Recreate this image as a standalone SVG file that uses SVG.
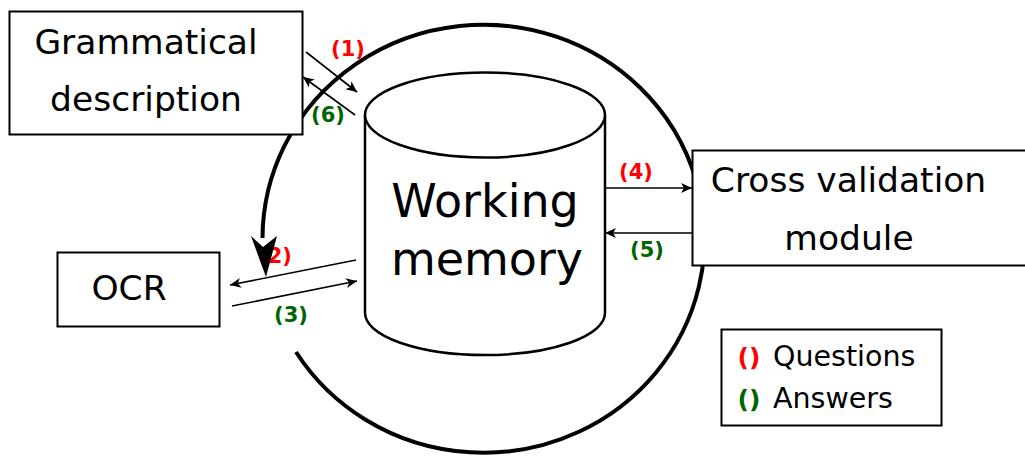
<svg xmlns="http://www.w3.org/2000/svg" width="1025" height="461" viewBox="0 0 1025 461">
<style>
.box{fill:#fff;stroke:#000;stroke-width:2}
.t{font-family:"DejaVu Sans",sans-serif;fill:#000;text-anchor:middle}
.big{font-size:34.5px}
.wm{font-size:46px}
.lg{font-size:28.5px;text-anchor:start}
.lbl{font-family:"DejaVu Sans",sans-serif;font-weight:bold;font-size:21px;text-anchor:middle}
.lgp{font-size:25px}
.q{fill:#ff0000}
.a{fill:#006400}
.ln{fill:none;stroke:#000;stroke-width:1.6;marker-end:url(#ah)}
</style>
<defs>
<marker id="ah" viewBox="-12 -6 14 12" markerWidth="14" markerHeight="12" markerUnits="userSpaceOnUse" refX="0" refY="0" orient="auto">
<path d="M0,0 L-11,-5 L-8,0 L-11,5 Z" fill="#000"/>
</marker>
</defs>
<rect width="1025" height="461" fill="#fff"/>
<g id="connectors">
<line class="ln" x1="306" y1="52" x2="357" y2="92"/>
<line class="ln" x1="355" y1="115" x2="303" y2="77"/>
<line class="ln" x1="356" y1="260" x2="230" y2="285"/>
<line class="ln" x1="232" y1="306" x2="357" y2="281"/>
<line class="ln" x1="605" y1="188" x2="692" y2="188"/>
<line class="ln" x1="692" y1="233" x2="605" y2="233"/>
<text class="lbl q" x="348" y="56">(1)</text>
<text class="lbl a" x="328" y="122">(6)</text>
<text class="lbl q" x="275" y="263">(2)</text>
<text class="lbl a" x="291" y="322">(3)</text>
<text class="lbl q" x="636" y="179">(4)</text>
<text class="lbl a" x="647" y="257">(5)</text>
</g>
<g id="cycle">
<path d="M296,352 A221,214 0 1 0 262.5,238" fill="none" stroke="#000" stroke-width="4"/>
<path d="M266,277 L251,236 L263,247 L277,236 Z" fill="#000"/>
</g>
<g id="grammatical">
<rect class="box" x="9.5" y="11.5" width="293" height="123"/>
<text class="t big" x="146" y="54">Grammatical</text>
<text class="t big" x="146" y="111">description</text>
</g>
<g id="ocr">
<rect class="box" x="57.5" y="252.5" width="162" height="74"/>
<text class="t big" x="129" y="300">OCR</text>
</g>
<g id="memory">
<path d="M365,115 L365,313 A120,42 0 0 0 605,313 L605,115" fill="#fff" stroke="#000" stroke-width="2.5"/>
<ellipse cx="485" cy="115" rx="120" ry="42.5" fill="#fff" stroke="#000" stroke-width="2.5"/>
<text class="t wm" x="485" y="217">Working</text>
<text class="t wm" x="487" y="275">memory</text>
</g>
<g id="crossval">
<rect class="box" x="692.5" y="150.5" width="340" height="115"/>
<text class="t big" x="848.5" y="192">Cross validation</text>
<text class="t big" x="849" y="250">module</text>
</g>
<g id="legend">
<rect class="box" x="721.5" y="329.5" width="220" height="96"/>
<text class="lbl q lgp" x="749" y="366">()</text>
<text class="t lg" x="773" y="366">Questions</text>
<text class="lbl a lgp" x="749" y="408">()</text>
<text class="t lg" x="773" y="408">Answers</text>
</g>
</svg>
